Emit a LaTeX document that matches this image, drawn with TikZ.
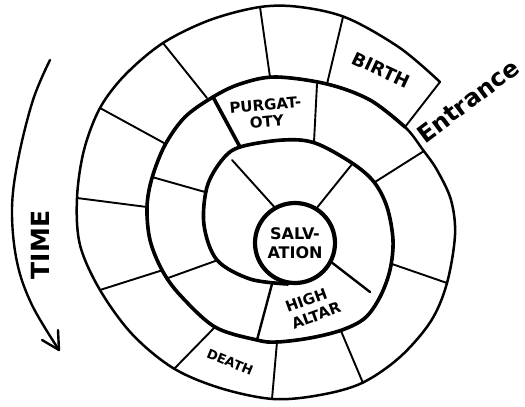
\documentclass[tikz,border=0pt]{standalone}
\usepackage{fontspec}
\setmainfont{DejaVu Sans}
\begin{document}
\begin{tikzpicture}[x=1pt,y=-1pt,line join=round,line cap=round,
  wall/.style={line width=2.5pt},
  thickwall/.style={line width=3.6pt},
  divider/.style={line width=1.9pt},
  lbl/.style={inner sep=0pt,align=center},
  fs/.style={font=\fontsize{#1}{#1}\selectfont\bfseries}]
\useasboundingbox (0,0) rectangle (525,407);

% spiral wall
\draw[wall] plot[smooth,tension=0.55] coordinates {(440,82) (400,48) (347,18) (300,7) (260,7) (210,20) (163,43) (125,75) (100,108) (84,150) (77,198) (80,245) (100,290) (132,334) (173,368) (220,388) (273,399) (320,395) (362,383) (400,357) (431,321) (447,283) (455,235) (451,200) (437,170) (423,150) (405,127) (370,100) (327,84) (275,77) (240,84) (213,97) (185,117) (165,145) (152,178) (147,207) (150,240) (162,270) (180,295) (215,327) (257,340) (277,342) (310,338) (342,330) (365,318) (380,297) (390,270) (393,240) (387,207) (374,182) (352,163) (315,143) (283,140) (240,147) (222,160) (207,187) (204,225) (217,260) (250,279) (288,284)};
\draw[thickwall] plot[smooth,tension=0.55] coordinates {(405,127) (370,100) (327,84) (275,77) (240,84) (213,97) (185,117) (165,145) (152,178) (147,207) (150,240) (162,270) (180,295) (215,327) (257,340) (277,342) (310,338) (342,330) (365,318) (380,297) (390,270) (393,240) (387,207) (374,182) (352,163) (315,143) (283,140) (240,147) (222,160) (207,187) (204,225) (217,260) (250,279) (288,284)};

% centre
\node[circle,draw,line width=4.2pt,minimum size=80pt,inner sep=0pt,lbl,fs=16] (salv) at (295,243) {SALV-\\[3pt]ATION};

% dividers, outer band
\coordinate (b1o) at (440,82);  \coordinate (b1i) at (405,127);
\coordinate (b2o) at (343,17);  \coordinate (b2i) at (327,84);
\coordinate (b3o) at (260,7);   \coordinate (b3i) at (270,77);
\coordinate (b4o) at (163,43);  \coordinate (b4i) at (207,98);
\coordinate (b5o) at (100,108); \coordinate (b5i) at (164,143);
\coordinate (b6o) at (77,198);  \coordinate (b6i) at (147,207);
\coordinate (b7o) at (100,290); \coordinate (b7i) at (163,270);
\coordinate (b8o) at (174,369); \coordinate (b8i) at (215,327);
\coordinate (b9o) at (272,399); \coordinate (b9i) at (277,342);
\coordinate (b10o) at (363,383); \coordinate (b10i) at (341,331);
\coordinate (b11o) at (447,283); \coordinate (b11i) at (392,264);
\coordinate (b12o) at (424,151); \coordinate (b12i) at (375,182);
\foreach \k in {1,...,12} \draw[divider] (b\k o) -- (b\k i);
% second band
\coordinate (c1o) at (317,84);  \coordinate (c1i) at (314,142);
\coordinate (c2o) at (213,97);  \coordinate (c2i) at (240,147);
\coordinate (c3o) at (152,177); \coordinate (c3i) at (205,192);
\coordinate (c4o) at (168,278); \coordinate (c4i) at (218,260);
\coordinate (c5o) at (257,340); \coordinate (c5i) at (272,284);
\coordinate (c6i) at (370,292);
\draw[divider] (c1o) -- (c1i);
\draw[thickwall] (c2o) -- (c2i);
\draw[divider] (c3o) -- (c3i);
\draw[divider] (c4o) -- (c4i);
\draw[line width=2.4pt] (c5o) -- (c5i);
\draw[line width=2.4pt] (salv.-28) -- (c6i);
% inner band
\coordinate (d1) at (232,160);
\coordinate (d2) at (353,163);
\draw[divider] (salv.120) -- (d1);
\draw[divider] (salv.58) -- (d2);

% labels
\node[lbl,fs=18,rotate=-25] (birth) at (381,70) {BIRTH};
\node[lbl,fs=24,rotate=37] (entr) at (468,101) {Entrance};
\node[lbl,fs=15,rotate=5] (purg) at (266,113) {PURGAT-\\[2pt]OTY};
\node[lbl,fs=15,rotate=20,align=left] (altar) at (313,307) {HIGH\\[3pt]ALTAR};
\node[lbl,fs=13,rotate=-22] (death) at (230,362) {DEATH};
\node[lbl,fs=25,rotate=90] (time) at (40,245) {TIME};

% time arrow
\coordinate (tstart) at (50,60);
\coordinate (ttip) at (59,350);
\draw[line width=2.4pt] plot[smooth,tension=0.6] coordinates {(tstart) (33,100) (18,160) (12,210) (17,262) (32,305) (ttip)};
\draw[line width=2.4pt] (42,340) -- (ttip) -- (58,330);
\end{tikzpicture}
\end{document}
